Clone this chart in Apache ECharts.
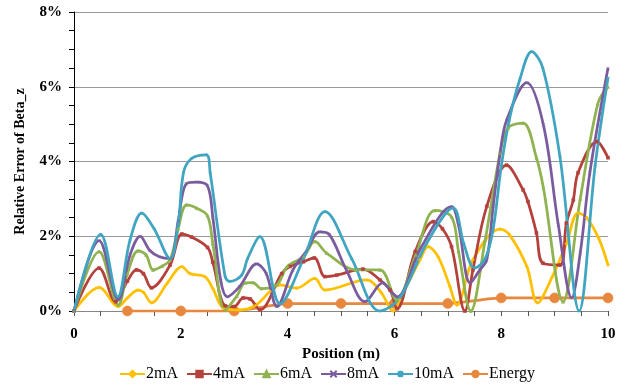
<!DOCTYPE html>
<html>
<head>
<meta charset="utf-8">
<script src="https://cdn.jsdelivr.net/npm/echarts@6/dist/echarts.min.js"></script>
<style>
  html, body { margin: 0; padding: 0; background: #fff; }
  #chart { width: 621px; height: 384px; }
</style>
</head>
<body>
<div id="chart"></div>
<script>
// relative error (%) vs position (m)
const s2mA = [[0,0],[0.47,0.63],[0.83,0.12],[1.0,0.35],[1.2,0.56],[1.3,0.5],[1.45,0.22],[1.75,0.75],[2.02,1.19],[2.17,1.0],[2.45,0.92],[2.6,0.6],[2.8,0.08],[3.1,0.03],[3.4,0.15],[3.67,0.52],[3.86,0.7],[4.17,0.61],[4.51,0.87],[4.7,0.56],[5.48,0.83],[5.75,0.5],[5.98,0.0],[6.1,0.3],[6.48,1.37],[6.63,1.72],[6.82,1.45],[7.04,0.65],[7.17,0.16],[7.47,1.37],[7.98,2.19],[8.15,2.05],[8.48,1.19],[8.68,0.22],[8.95,0.9],[9.22,1.8],[9.44,2.62],[9.6,2.5],[9.83,1.93],[10,1.23]]
const s4mA = [[0,0],[0.47,1.15],[0.78,0.25],[1.0,0.8],[1.17,1.1],[1.3,1.0],[1.45,0.62],[1.8,1.23],[2.02,2.06],[2.2,1.98],[2.5,1.7],[2.6,1.3],[2.83,0.14],[3.0,0.12],[3.17,0.35],[3.3,0.32],[3.48,0.03],[3.89,1.0],[4.04,1.19],[4.3,1.32],[4.5,1.42],[4.7,0.92],[4.92,0.96],[5.41,1.12],[5.73,0.83],[5.92,0.56],[6.05,0.06],[6.39,1.59],[6.73,2.39],[6.9,2.2],[7.07,1.72],[7.32,0.0],[7.47,1.1],[7.73,2.8],[8.1,3.9],[8.41,3.24],[8.5,2.93],[8.66,2.09],[8.78,1.28],[9.1,1.23],[9.22,2.35],[9.35,2.97],[9.44,3.7],[9.79,4.53],[10,4.1]]
const s6mA = [[0,0],[0.47,1.59],[0.83,0.16],[1.0,1.0],[1.2,1.61],[1.35,1.5],[1.48,1.1],[1.65,1.2],[1.8,1.37],[1.95,2.2],[2.11,2.84],[2.3,2.75],[2.5,2.55],[2.6,1.8],[2.83,0.03],[3.05,0.4],[3.2,0.75],[3.35,0.76],[3.51,0.6],[3.8,0.7],[4.0,1.2],[4.3,1.45],[4.51,1.86],[4.73,1.55],[5.29,1.1],[5.73,1.1],[6.04,0.3],[6.4,1.5],[6.76,2.69],[7.07,2.52],[7.2,1.6],[7.43,0.0],[7.7,1.9],[7.98,4.23],[8.13,4.9],[8.41,5.03],[8.66,4.1],[8.79,3.3],[9.16,0.25],[9.48,3.0],[9.81,5.55],[10,6.0]]
const s8mA = [[0,0],[0.47,1.88],[0.83,0.3],[1.05,1.5],[1.24,2.0],[1.42,1.62],[1.6,1.45],[1.8,1.4],[1.95,2.4],[2.1,3.4],[2.3,3.45],[2.5,3.35],[2.6,2.5],[2.75,0.8],[2.87,0.38],[3.1,0.65],[3.42,1.26],[3.6,1.0],[3.8,0.12],[4.1,1.1],[4.35,1.6],[4.6,2.12],[4.78,2.05],[5.1,1.1],[5.45,0.25],[5.78,0.75],[5.95,0.5],[6.05,0.38],[6.5,1.7],[7.07,2.79],[7.2,2.3],[7.42,0.75],[7.6,1.1],[7.73,1.37],[7.85,2.8],[7.98,4.23],[8.1,5.1],[8.48,6.11],[8.79,4.98],[9.07,2.3],[9.32,0.35],[9.48,1.55],[9.66,3.7],[10,6.5]]
const s10mA = [[0,0],[0.5,2.05],[0.82,0.38],[1.05,1.9],[1.27,2.62],[1.5,2.2],[1.8,1.4],[1.95,2.3],[2.05,3.7],[2.2,4.08],[2.48,4.18],[2.55,3.7],[2.83,0.92],[2.92,0.79],[3.14,0.96],[3.25,1.4],[3.48,1.99],[3.86,0.19],[4.3,1.4],[4.7,2.66],[5.2,1.4],[5.73,0.0],[6.1,0.35],[6.6,1.8],[7.1,2.76],[7.3,1.8],[7.5,1.15],[7.7,1.4],[7.85,2.2],[8.0,3.86],[8.15,5.1],[8.35,6.2],[8.57,6.94],[8.78,6.5],[9.1,4.13],[9.46,0.0],[9.76,3.9],[10,6.24]]
const energyPos = [1,2,3,4,5,6,7,8,9,10]
const energyVal = [0,0,0,0.2,0.2,0.2,0.2,0.35,0.35,0.35]

const serif = '"Liberation Serif", "DejaVu Serif", serif'
const xMark = 'path://M0,0L10,10M10,0L0,10'
const starMark = 'path://M5,0L5,10M0,5L10,5M1,1L9,9M9,1L1,9'

const chart = echarts.init(document.getElementById('chart'))

const mk = (name, data, color, symbol, size, extra) => Object.assign({
  name: name,
  type: 'line',
  data: data,
  smooth: 0.35,
  symbol: symbol,
  symbolSize: size,
  lineStyle: { color: color, width: 2.75 },
  itemStyle: { color: color, borderColor: color, borderWidth: 0.6 },
  z: 2
}, extra || {})

const option = {
  animation: false,
  grid: { left: 74, right: 13, top: 12, bottom: 73 },
  legend: {
    top: 361,
    left: 114,
    itemWidth: 25,
    itemHeight: 8,
    itemGap: 8,
    textStyle: { fontFamily: serif, fontSize: 16, color: '#000', padding: [0, 0, 0, -4] },
    data: ['2mA', '4mA', '6mA', '8mA', '10mA', 'Energy']
  },
  xAxis: {
    type: 'value',
    min: 0,
    max: 10,
    interval: 2,
    name: 'Position (m)',
    nameLocation: 'middle',
    nameGap: 27,
    nameTextStyle: { fontFamily: serif, fontSize: 15, fontWeight: 'bold', color: '#000' },
    axisLine: { lineStyle: { color: '#868686', width: 1 } },
    axisTick: { show: true, length: 5, lineStyle: { color: '#555' } },
    minorTick: { show: true, splitNumber: 4, length: 5, lineStyle: { color: '#555' } },
    axisLabel: { fontFamily: serif, fontSize: 15, fontWeight: 'bold', color: '#000', margin: 16 },
    splitLine: { show: false }
  },
  yAxis: {
    type: 'value',
    min: 0,
    max: 8,
    interval: 2,
    name: 'Relative Error of Beta_z',
    nameLocation: 'middle',
    nameGap: 47,
    nameTextStyle: { fontFamily: serif, fontSize: 14, fontWeight: 'bold', color: '#000' },
    axisLine: { show: true, lineStyle: { color: '#000', width: 1 } },
    axisTick: { show: true, length: 5, lineStyle: { color: '#000' } },
    minorTick: { show: true, splitNumber: 4, length: 5, lineStyle: { color: '#000' } },
    axisLabel: { fontFamily: serif, fontSize: 15, fontWeight: 'bold', color: '#000', margin: 12, formatter: v => v + '%' },
    splitLine: { show: true, lineStyle: { color: '#9a9a9a', width: 1 } }
  },
  series: [
    mk('2mA', s2mA, '#FFC000', 'diamond', 3),
    mk('4mA', s4mA, '#B5413D', 'rect', 3),
    mk('6mA', s6mA, '#8FB350', 'triangle', 3),
    mk('8mA', s8mA, '#7A5C9E', xMark, 3),
    mk('10mA', s10mA, '#3FA5C0', starMark, 3),
    mk('Energy', energyPos.map((p, i) => [p, energyVal[i]]), '#E8883E', 'circle', 10, { smooth: 0.2, z: 1 })
  ]
}
chart.setOption(option)
</script>
</body>
</html>
